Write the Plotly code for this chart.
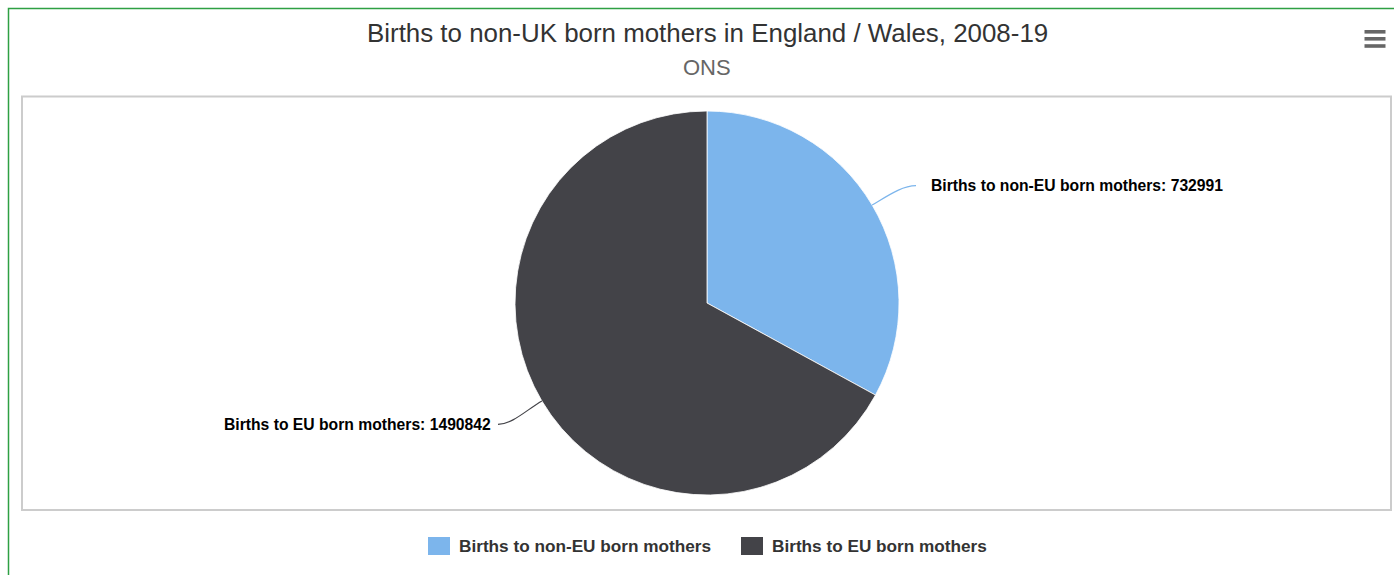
import math
import plotly.graph_objects as go

# ---- data ----
categories = ["Births to non-EU born mothers", "Births to EU born mothers"]
births = [732991, 1490842]
colors = ["#7cb5ec", "#434348"]

title_text = "Births to non-UK born mothers in England / Wales, 2008-19"
subtitle_text = "ONS"

# ---- canvas / layout constants (pixels) ----
W, H = 1394, 575
CX, CY, R = 707, 303, 192          # pie centre and radius
FONT = "Liberation Sans, Arial, sans-serif"


def fx(x):
    return x / W


def fy(y):
    return 1 - y / H


fig = go.Figure()

fig.add_trace(go.Pie(
    labels=categories,
    values=births,
    marker=dict(colors=colors, line=dict(color="#ffffff", width=0.8)),
    sort=False,
    direction="clockwise",
    rotation=0,
    textinfo="none",
    hoverinfo="label+value",
    showlegend=False,
    domain=dict(x=[fx(CX - R), fx(CX + R)], y=[fy(CY + R), fy(CY - R)]),
))

shapes = []
annotations = []

# outer frame and plot box
shapes.append(dict(type="rect", xref="paper", yref="paper",
                   x0=fx(8.5), y0=fy(620), x1=fx(1440), y1=fy(8.5),
                   line=dict(color="#2ea043", width=1.5), layer="below"))
shapes.append(dict(type="rect", xref="paper", yref="paper",
                   x0=fx(22), y0=fy(510), x1=fx(1391), y1=fy(96.5),
                   line=dict(color="#cccccc", width=2), layer="below"))

# title and subtitle
annotations.append(dict(text=title_text, xref="paper", yref="paper",
                        x=fx(707.5), y=fy(33.5), xanchor="center", yanchor="middle",
                        showarrow=False,
                        font=dict(family=FONT, size=25.9, color="#333333")))
annotations.append(dict(text=subtitle_text, xref="paper", yref="paper",
                        x=fx(707), y=fy(67.5), xanchor="center", yanchor="middle",
                        showarrow=False,
                        font=dict(family=FONT, size=22, color="#666666")))

# menu icon
for yy in (31.8, 38.8, 46):
    shapes.append(dict(type="line", xref="paper", yref="paper",
                       x0=fx(1364.5), x1=fx(1385.5), y0=fy(yy), y1=fy(yy),
                       line=dict(color="#666666", width=3.6)))

# data labels with curved connectors, placed from each slice's mid angle
total = sum(births)
start = 0.0
LABEL_DIST = 42     # radial distance of label row beyond the rim
LABEL_DROP = 2      # small downward nudge of the label row
CONN_END = 17       # horizontal reach of connector beyond the rim
for name, val, col in zip(categories, births, colors):
    frac = val / total
    mid = (start + frac / 2) * 2 * math.pi
    start += frac
    s, c = math.sin(mid), math.cos(mid)
    ex, ey = CX + R * s, CY - R * c
    side = 1 if s >= 0 else -1
    ly = CY - (R + LABEL_DIST) * c + LABEL_DROP
    px_end = CX + side * (R + CONN_END)
    c1x, c1y = ex + 18 * s, ey - 18 * c
    c2x, c2y = px_end - side * 14, ly
    path = (f"M {fx(ex)},{fy(ey)} C {fx(c1x)},{fy(c1y)} "
            f"{fx(c2x)},{fy(c2y)} {fx(px_end)},{fy(ly)}")
    shapes.append(dict(type="path", xref="paper", yref="paper", path=path,
                       line=dict(color=col, width=1.2)))
    gap = 13 if side > 0 else 5
    annotations.append(dict(
        text=f"<b>{name}: {val}</b>", xref="paper", yref="paper",
        x=fx(px_end + side * gap), y=fy(ly),
        xanchor="left" if side > 0 else "right", yanchor="middle",
        showarrow=False,
        font=dict(family=FONT, size=15.7, color="#000000")))

# legend row
legend_sq_x = [428, 741]
LEG_Y = 546
for name, col, x0 in zip(categories, colors, legend_sq_x):
    shapes.append(dict(type="rect", xref="paper", yref="paper",
                       x0=fx(x0), x1=fx(x0 + 22), y0=fy(LEG_Y + 9), y1=fy(LEG_Y - 9),
                       fillcolor=col, line=dict(width=0)))
    annotations.append(dict(text=f"<b>{name}</b>", xref="paper", yref="paper",
                            x=fx(x0 + 29), y=fy(LEG_Y), xanchor="left", yanchor="middle",
                            showarrow=False,
                            font=dict(family=FONT, size=17.2, color="#333333")))

fig.update_layout(
    width=W, height=H,
    margin=dict(l=0, r=0, t=0, b=0),
    paper_bgcolor="#ffffff",
    plot_bgcolor="#ffffff",
    shapes=shapes,
    annotations=annotations,
    showlegend=False,
)

fig.write_html("out.html", config={"displayModeBar": False})
